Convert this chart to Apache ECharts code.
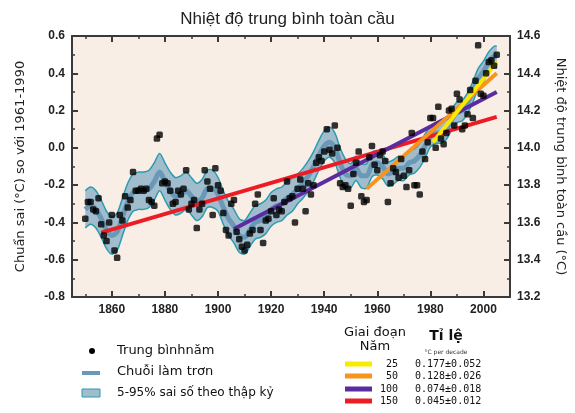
<!DOCTYPE html>
<html><head><meta charset="utf-8">
<script src="https://cdn.jsdelivr.net/npm/echarts@6/dist/echarts.min.js"></script>
<style>html,body{margin:0;padding:0;background:#fff}#c{width:575px;height:413px}</style>
</head><body><div id="c"></div>
<script>
// ---------------- DATA ----------------
const startYear = 1850;
const annual = [
 -0.38,-0.29,-0.29,-0.33,-0.34,-0.27,-0.41,-0.47,-0.50,-0.40, // 1850s
 -0.36,-0.55,-0.59,-0.36,-0.39,-0.26,-0.32,-0.28,-0.13,-0.23, // 1860s
 -0.23,-0.22,-0.23,-0.22,-0.28,-0.29,-0.31, 0.05, 0.07,-0.19, // 1870s
 -0.18,-0.19,-0.23,-0.30,-0.29,-0.23,-0.25,-0.22,-0.12,-0.33, // 1880s
 -0.30,-0.28,-0.43,-0.33,-0.30,-0.12,-0.18,-0.22,-0.36,-0.11, // 1890s
 -0.20,-0.23,-0.35,-0.44,-0.47,-0.30,-0.28,-0.45,-0.49,-0.53, // 1900s
 -0.55,-0.52,-0.46,-0.44,-0.30,-0.25,-0.44,-0.51,-0.39,-0.38, // 1910s
 -0.34,-0.27,-0.36,-0.33,-0.34,-0.29,-0.18,-0.27,-0.26,-0.40, // 1920s
 -0.22,-0.17,-0.22,-0.34,-0.19,-0.25,-0.20,-0.08,-0.05,-0.07, // 1930s
 -0.02, 0.10,-0.01,-0.03, 0.12, 0.00,-0.19,-0.21,-0.20,-0.22, // 1940s
 -0.31,-0.14,-0.08,-0.02,-0.26,-0.29,-0.28,-0.05, 0.01,-0.09, // 1950s
 -0.12,-0.04,-0.02,-0.07,-0.29,-0.19,-0.11,-0.13,-0.16,-0.06, // 1960s
 -0.15,-0.21,-0.12, 0.08,-0.20,-0.20,-0.25,-0.02,-0.06, 0.03, // 1970s
  0.16, 0.16, 0.00, 0.22, 0.05, 0.02, 0.08, 0.20, 0.21, 0.12, // 1980s
  0.29, 0.26, 0.10, 0.12, 0.18, 0.31, 0.16, 0.36, 0.55, 0.29, // 1990s
  0.28, 0.40, 0.46, 0.47, 0.44, 0.50                          // 2000s
];
const smoothYears = [1850,1852,1854,1856,1858,1860,1862,1864,1866,1868,1870,1872,1874,1876,1878,
 1880,1882,1884,1886,1888,1890,1892,1894,1896,1898,1900,1902,1904,1906,1908,1910,1912,1914,1916,1918,
 1920,1922,1924,1926,1928,1930,1932,1934,1936,1938,1940,1942,1944,1946,1948,1950,1952,1954,1956,1958,
 1960,1962,1964,1966,1968,1970,1972,1974,1976,1978,1980,1982,1984,1986,1988,1990,1992,1994,1996,1998,
 2000,2002,2004,2005];
const smoothVals = [-0.33,-0.31,-0.33,-0.38,-0.44,-0.47,-0.45,-0.37,-0.29,-0.24,-0.23,-0.23,-0.22,-0.18,-0.13,
 -0.18,-0.23,-0.26,-0.25,-0.23,-0.26,-0.29,-0.27,-0.22,-0.22,-0.25,-0.32,-0.38,-0.42,-0.47,-0.48,-0.44,-0.40,-0.39,-0.37,
 -0.33,-0.31,-0.30,-0.27,-0.25,-0.22,-0.19,-0.15,-0.10,-0.04,0.01,0.03,0.00,-0.08,-0.14,-0.15,-0.11,-0.15,-0.15,-0.09,
 -0.08,-0.10,-0.14,-0.13,-0.11,-0.11,-0.08,-0.07,-0.04,0.01,0.06,0.08,0.08,0.10,0.15,0.19,0.20,0.24,0.30,0.37,
 0.41,0.46,0.49,0.49];
const bandHalf = [0.10,0.10,0.10,0.10,0.10,0.10,0.10,0.10,0.10,0.10,0.10,0.10,0.10,0.10,0.10,
 0.10,0.10,0.10,0.10,0.10,0.10,0.10,0.10,0.10,0.10,0.09,0.09,0.09,0.09,0.09,0.09,0.09,0.09,0.09,0.09,
 0.09,0.09,0.09,0.09,0.09,0.08,0.08,0.08,0.08,0.08,0.08,0.08,0.08,0.08,0.08,0.065,0.065,0.065,0.065,0.065,
 0.065,0.065,0.065,0.065,0.065,0.065,0.065,0.065,0.065,0.065,0.055,0.055,0.055,0.055,0.055,0.055,0.055,0.055,0.055,0.055,
 0.055,0.055,0.055,0.055];
const trendPeriods   = ['25','50','100','150'];
const trendStartYrs  = [1981, 1956, 1906, 1856];
const trendEndYrs    = [2005, 2005, 2005, 2005];
const trendStartVals = [0.03, -0.22, -0.435, -0.455];
const trendEndVals   = [0.46, 0.40, 0.30, 0.166];
const trendRates     = ['0.177±0.052','0.128±0.026','0.074±0.018','0.045±0.012'];
const trendColors    = ['#f9ea00','#f7941d','#5b2c9f','#ed1c24'];
const xMajorTicks = [1860,1880,1900,1920,1940,1960,1980,2000];
const xMinorTicks = [1850,1870,1890,1910,1930,1950,1970,1990];

// ---------------- STYLE ----------------
const BG = '#f8eee5';
const AX = '#3a3a3a';
const BAND = '#a0bccd';
const EDGE = '#2b9cae';
const SMOOTH = '#6a99b7';
const LBL = {fontFamily:'Liberation Sans', fontSize:12, fontWeight:'bold', color:'#222'};

const annualPts = annual.map((v,i)=>[startYear+i, v]);
const upperPts = smoothYears.map((y,i)=>[y, smoothVals[i]+bandHalf[i]]);
const lowerPts = smoothYears.map((y,i)=>[y, smoothVals[i]-bandHalf[i]]);
const smoothPts = smoothYears.map((y,i)=>[y, smoothVals[i]]);

function xAx(pos, ticks, len, main){
  return {type:'value', min:1845, max:2010, position:pos, gridIndex:0,
    axisLine:{show:main, onZero:false, lineStyle:{color:AX, width:2}},
    axisTick:{show:true, inside:true, length:len, customValues:ticks, lineStyle:{color:AX, width:len>4?2:1.5}},
    axisLabel:{show:main && pos==='bottom', customValues:ticks, margin:7, formatter:v=>String(v), ...LBL},
    splitLine:{show:false}};
}

function bandRender(params, api){
  if (params.dataIndex !== 0) return null;
  const up = upperPts.map(p=>api.coord(p));
  const lo = lowerPts.map(p=>api.coord(p));
  const poly = up.concat(lo.slice().reverse());
  return {type:'group', children:[
    {type:'polygon', shape:{points:poly}, style:{fill:BAND, stroke:null}},
    {type:'polyline', shape:{points:up, smooth:0.3}, style:{stroke:EDGE, lineWidth:1.5, fill:null}},
    {type:'polyline', shape:{points:lo, smooth:0.3}, style:{stroke:EDGE, lineWidth:1.5, fill:null}}
  ]};
}

const series = [
  {type:'custom', data:smoothPts, renderItem:bandRender, silent:true, z:1, encode:{x:0, y:1}},
  {type:'line', data:smoothPts, smooth:0.3, symbol:'none', silent:true, z:2,
   lineStyle:{color:SMOOTH, width:5}}
];
for (let k=3;k>=0;k--){
  series.push({type:'line', symbol:'none', silent:true, z:3,
    data:[[trendStartYrs[k], trendStartVals[k]],[trendEndYrs[k], trendEndVals[k]]],
    lineStyle:{color:trendColors[k], width:4}});
}
series.push({type:'scatter', data:annualPts, symbol:'roundRect', symbolSize:6.5, z:5,
  itemStyle:{color:'#000'}, silent:true});

// legend & table graphics
const graphic = [
  {type:'circle', shape:{cx:92, cy:351, r:3}, style:{fill:'#000'}},
  {type:'rect', shape:{x:82, y:371, width:18, height:4}, style:{fill:SMOOTH}},
  {type:'rect', shape:{x:82, y:389, width:18, height:8}, style:{fill:BAND, stroke:EDGE, lineWidth:1}},
  {type:'text', x:117, y:351, style:{text:'Trung bìnhnăm', font:'13px "DejaVu Sans"', fill:'#111', verticalAlign:'middle'}},
  {type:'text', x:117, y:372, style:{text:'Chuỗi làm trơn', font:'13px "DejaVu Sans"', fill:'#111', verticalAlign:'middle'}},
  {type:'text', x:117, y:393, style:{text:'5-95% sai số theo thập kỷ', font:'12px "DejaVu Sans"', fill:'#111', verticalAlign:'middle'}},
  {type:'text', x:375, y:333, style:{text:'Giai đoạn', font:'13px "DejaVu Sans"', fill:'#111', align:'center', verticalAlign:'middle'}},
  {type:'text', x:375, y:347, style:{text:'Năm', font:'13px "DejaVu Sans"', fill:'#111', align:'center', verticalAlign:'middle'}},
  {type:'text', x:446, y:336, style:{text:'Tỉ lệ', font:'bold 14px "DejaVu Sans"', fill:'#111', align:'center', verticalAlign:'middle'}},
  {type:'text', x:446, y:352, style:{text:'°C per decade', font:'6px "DejaVu Sans"', fill:'#333', align:'center', verticalAlign:'middle'}}
];
const rowY = [364, 376, 389, 401];
for (let k=0;k<4;k++){
  graphic.push({type:'rect', shape:{x:345, y:rowY[k]-2.5, width:27, height:5}, style:{fill:trendColors[k]}});
  graphic.push({type:'text', x:398, y:rowY[k], style:{text:trendPeriods[k], font:'10px "DejaVu Sans Mono"', fill:'#111', align:'right', verticalAlign:'middle'}});
  graphic.push({type:'text', x:415, y:rowY[k], style:{text:trendRates[k], font:'10px "DejaVu Sans Mono"', fill:'#111', align:'left', verticalAlign:'middle'}});
}

const option = {
  animation:false,
  backgroundColor:'#fff',
  title:{text:'Nhiệt độ trung bình toàn cầu', left:'center', top:6,
    textStyle:{fontFamily:'Liberation Sans', fontSize:17, fontWeight:'normal', color:'#222'}},
  grid:{left:72, right:59, top:36, bottom:116, show:true, backgroundColor:BG, borderWidth:0},
  xAxis:[ xAx('bottom', xMajorTicks, 6, true), xAx('bottom', xMinorTicks, 3, false),
          xAx('top', xMajorTicks, 6, true), xAx('top', xMinorTicks, 3, false) ],
  yAxis:[
    {type:'value', min:-0.8, max:0.6, interval:0.2, position:'left',
     name:'Chuẩn sai (°C) so với 1961-1990', nameLocation:'middle', nameRotate:90, nameGap:45,
     nameTextStyle:{fontFamily:'DejaVu Sans', fontSize:13, color:'#222'},
     axisLine:{show:true, onZero:false, lineStyle:{color:AX, width:2}},
     axisTick:{inside:true, length:6, lineStyle:{color:AX, width:2}},
     minorTick:{show:true, splitNumber:2, length:3, lineStyle:{color:AX, width:1.5}},
     axisLabel:{margin:7, formatter:v=>v.toFixed(1), ...LBL},
     splitLine:{show:false}},
    {type:'value', min:13.2, max:14.6, interval:0.2, position:'right',
     name:'Nhiệt độ trung bình toàn cầu (°C)', nameLocation:'middle', nameRotate:-90, nameGap:44,
     nameTextStyle:{fontFamily:'DejaVu Sans', fontSize:13, color:'#222'},
     axisLine:{show:true, onZero:false, lineStyle:{color:AX, width:2}},
     axisTick:{inside:true, length:6, lineStyle:{color:AX, width:2}},
     minorTick:{show:true, splitNumber:2, length:3, lineStyle:{color:AX, width:1.5}},
     axisLabel:{margin:7, formatter:v=>v.toFixed(1), ...LBL},
     splitLine:{show:false}}
  ],
  series:series,
  graphic:graphic
};
const chart = echarts.init(document.getElementById('c'), null, {renderer:'canvas'});
chart.setOption(option);
</script></body></html>
